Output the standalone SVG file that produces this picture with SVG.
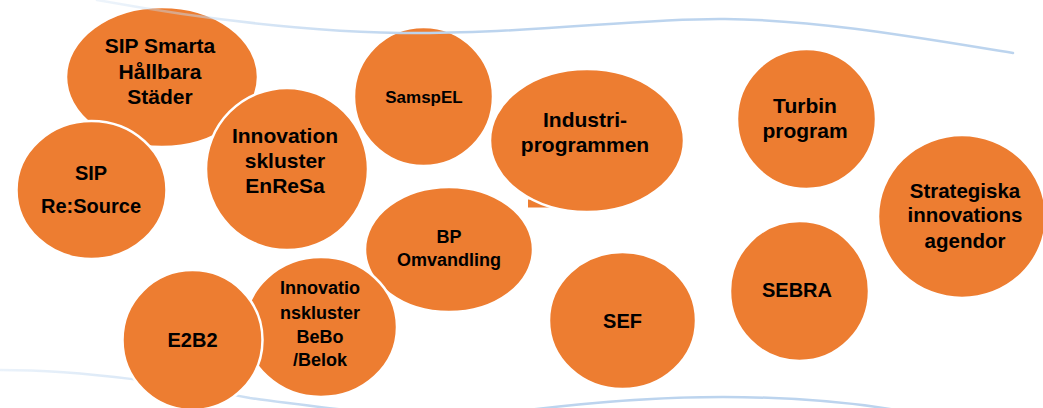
<svg xmlns="http://www.w3.org/2000/svg" width="1043" height="408" viewBox="0 0 1043 408">
<style>
.n{fill:#ED7D31;stroke:#FFFFFF;stroke-width:2.5}
.t{font-family:"Liberation Sans",Arial,sans-serif;font-weight:bold;fill:#000000;text-anchor:middle}
.w{fill:none;stroke-width:2.5;stroke-linecap:round}
</style>
<defs>
<linearGradient id="gTop" gradientUnits="userSpaceOnUse" x1="97" y1="0" x2="420" y2="0">
<stop offset="0" stop-color="#c5dbf2" stop-opacity="0.3"/>
<stop offset="1" stop-color="#bcd4ee" stop-opacity="1"/>
</linearGradient>
<linearGradient id="gB1" gradientUnits="userSpaceOnUse" x1="0" y1="0" x2="360" y2="0">
<stop offset="0" stop-color="#c5dbf2" stop-opacity="0.35"/>
<stop offset="1" stop-color="#bcd4ee" stop-opacity="1"/>
</linearGradient>
</defs>
<rect width="1043" height="408" fill="#FFFFFF"/>
<g id="waves-back">
<path class="w" stroke="url(#gB1)" d="M0,370 C90,370 180,385 250,398 C290,404 330,408 362,412"/>
<path class="w" stroke="#bcd4ee" d="M520,411 C600,401 660,397 723,397 C790,397 850,402 902,411"/>
</g>
<g id="nodes">
<g id="sip-smarta">
<ellipse class="n" cx="162" cy="77" rx="96" ry="70"/>
<text class="t" font-size="21" x="160" y="53">SIP Smarta</text>
<text class="t" font-size="21" x="160" y="79">Hållbara</text>
<text class="t" font-size="21" x="160" y="104">Städer</text>
</g>
<g id="sip-resource">
<ellipse class="n" cx="91.5" cy="190" rx="75" ry="69"/>
<text class="t" font-size="20" x="91" y="180">SIP</text>
<text class="t" font-size="20" x="91" y="213">Re:Source</text>
</g>
<g id="enresa">
<circle class="n" cx="287" cy="169" r="81"/>
<text class="t" font-size="21" x="285" y="143">Innovation</text>
<text class="t" font-size="21" x="285" y="168">skluster</text>
<text class="t" font-size="21" x="285" y="193">EnReSa</text>
</g>
<g id="samspel">
<circle class="n" cx="423.5" cy="96.5" r="69.5"/>
<text class="t" font-size="17" x="424" y="103">SamspEL</text>
</g>
<rect x="528" y="199.5" width="40" height="8" fill="#ED7D31"/>
<g id="industri">
<ellipse class="n" cx="587" cy="140.5" rx="97" ry="71.5"/>
<text class="t" font-size="21" x="585" y="127">Industri-</text>
<text class="t" font-size="21" x="585" y="152">programmen</text>
</g>
<g id="turbin">
<ellipse class="n" cx="806.5" cy="119" rx="69.5" ry="70"/>
<text class="t" font-size="21" x="805" y="113">Turbin</text>
<text class="t" font-size="21" x="805" y="138">program</text>
</g>
<g id="strategiska">
<ellipse class="n" cx="962" cy="216.5" rx="84" ry="81.5"/>
<text class="t" font-size="20.5" x="965" y="198">Strategiska</text>
<text class="t" font-size="20.5" x="965" y="222">innovations</text>
<text class="t" font-size="20.5" x="965" y="248">agendor</text>
</g>
<g id="bp-omvandling">
<ellipse class="n" cx="449" cy="249.5" rx="84" ry="62.5"/>
<text class="t" font-size="18" x="449" y="243">BP</text>
<text class="t" font-size="18" x="449" y="266">Omvandling</text>
</g>
<g id="bebo-belok">
<ellipse class="n" cx="321" cy="327" rx="76" ry="70"/>
<text class="t" font-size="18" x="320" y="294">Innovatio</text>
<text class="t" font-size="18" x="320" y="319">nskluster</text>
<text class="t" font-size="18" x="320" y="343">BeBo</text>
<text class="t" font-size="18" x="320" y="366">/Belok</text>
</g>
<g id="e2b2">
<circle class="n" cx="192.5" cy="340" r="70"/>
<text class="t" font-size="20" x="192.5" y="347">E2B2</text>
</g>
<g id="sef">
<ellipse class="n" cx="622.5" cy="320.5" rx="73.5" ry="68.5"/>
<text class="t" font-size="20" x="622.5" y="328">SEF</text>
</g>
<g id="sebra">
<ellipse class="n" cx="799.5" cy="291" rx="69.5" ry="70"/>
<text class="t" font-size="20" x="797" y="297">SEBRA</text>
</g>
</g>
<g id="connectors">
<path class="w" stroke="url(#gTop)" d="M97,0 C180,15 300,33 420,33 C540,33 640,18 725,19 C820,20 920,38 1013,53"/>
</g>
</svg>
